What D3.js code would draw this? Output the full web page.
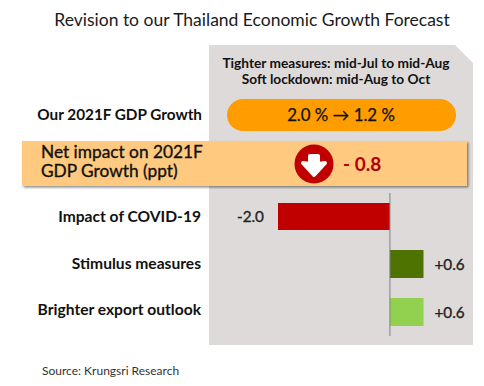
<!DOCTYPE html>
<html><head><meta charset="utf-8">
<script src="https://cdn.jsdelivr.net/npm/d3@7/dist/d3.min.js"></script>
<style>html,body{margin:0;background:#fff}svg{display:block}text{font-family:Lato,"Noto Sans",sans-serif}</style>
</head><body><svg id="c" width="484" height="386"></svg>
<script>
const categories = ["Impact of COVID-19","Stimulus measures","Brighter export outlook"];
const impacts = [-2.0,0.6,0.6];
const impactLabels = ["-2.0","+0.6","+0.6"];
const barColors = ["#c00000","#4f7300","#92d050"];
const titleText = "Revision to our Thailand Economic Growth Forecast";
const noteLines = ["Tighter measures: mid-Jul to mid-Aug","Soft lockdown: mid-Aug to Oct"];
const gdpLabel = "Our 2021F GDP Growth";
const gdpText = "2.0 % \u2192 1.2 %";
const netLines = ["Net impact on 2021F","GDP Growth (ppt)"];
const netText = "- 0.8";
const sourceText = "Source:  Krungsri Research";

const svg = d3.select("#c");
const defs = svg.append("defs");
const f = defs.append("filter").attr("id","sh").attr("x","-5%").attr("y","-20%").attr("width","110%").attr("height","140%");
f.append("feDropShadow").attr("dx",1.5).attr("dy",1.5).attr("stdDeviation",1.2).attr("flood-color","#000").attr("flood-opacity",0.45);

const x = d3.scaleLinear().domain([-2,0.6]).range([278,423.5]);
const ys = {[categories[0]]:[203,230],[categories[1]]:[250,278],[categories[2]]:[298,326]};

// panel
svg.append("path").attr("d",d3.line()([[209,45],[455,45],[473,63],[473,345],[209,345]])+"Z").attr("fill","#dfdada");

function txt(xp,yp,s,size,weight,anchor,fill){
  return svg.append("text").attr("x",xp).attr("y",yp).attr("font-size",size).attr("font-weight",weight)
    .attr("text-anchor",anchor).attr("fill",fill||"#111").text(s);
}
txt(252,26,titleText,17.5,400,"middle","#1a1a1a");
txt(336,68,noteLines[0],13.7,700,"middle");
txt(336,84,noteLines[1],13.7,700,"middle");

// pill
svg.append("rect").attr("x",227).attr("y",99).attr("width",229).attr("height",32).attr("rx",16).attr("fill","#ff9c00");
txt(341,121,gdpText,16.8,400,"middle").attr("stroke","#111").attr("stroke-width",0.25);
txt(202,120,gdpLabel,15.3,700,"end");

// band
svg.append("rect").attr("x",22).attr("y",141).attr("width",445).attr("height",45).attr("fill","#ffc97f").attr("filter","url(#sh)");
txt(41,158,netLines[0],17.3,400,"start").attr("stroke","#111").attr("stroke-width",0.35);
txt(41,177,netLines[1],17.3,400,"start").attr("stroke","#111").attr("stroke-width",0.35);
svg.append("circle").attr("cx",314).attr("cy",164).attr("r",19.5).attr("fill","#c00000");
svg.append("path").attr("d",d3.line()([[310,156],[318,156],[318,164],[325,163],[314,175],[303,163],[310,164]])+"Z")
  .attr("fill","#fff").attr("stroke","#fff").attr("stroke-width",4).attr("stroke-linejoin","round");
txt(343,171,netText,19,700,"start","#b00000");

// bars
svg.selectAll("rect.bar").data(categories).join("rect").attr("class","bar")
  .attr("x",(d,i)=>Math.min(x(impacts[i]),x(0))).attr("width",(d,i)=>Math.abs(x(impacts[i])-x(0)))
  .attr("y",d=>ys[d][0]).attr("height",d=>ys[d][1]-ys[d][0])
  .attr("fill",(d,i)=>barColors[i]);
svg.append("line").attr("x1",x(0)).attr("x2",x(0)).attr("y1",193).attr("y2",336).attr("stroke","#808080").attr("stroke-width",1);
svg.selectAll("text.cat").data(categories).join("text").attr("class","cat")
  .attr("x",201).attr("y",(d,i)=>[222,269,315][i]).attr("text-anchor","end")
  .attr("font-size",15.6).attr("font-weight",700).attr("fill","#111").text(d=>d);
svg.selectAll("text.val").data(impacts).join("text").attr("class","val")
  .attr("x",(d,i)=>d<0?x(d)-14:x(d)+11).attr("y",(d,i)=>[222,270,318][i])
  .attr("text-anchor",d=>d<0?"end":"start")
  .attr("font-size",15.3).attr("font-weight",400).attr("stroke","#222").attr("stroke-width",0.35).attr("fill","#222").text((d,i)=>impactLabels[i]);
txt(42,375,sourceText,12,400,"start","#333");
</script></body></html>
